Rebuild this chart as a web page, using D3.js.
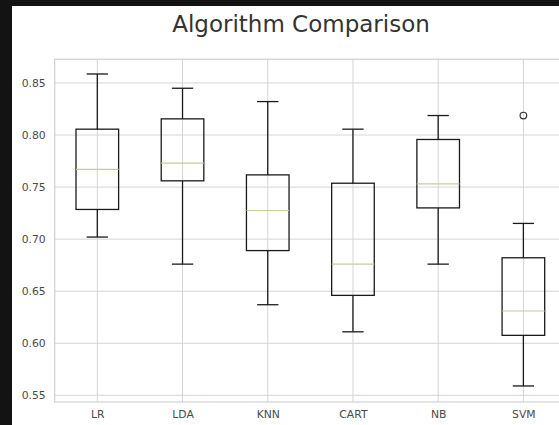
<!DOCTYPE html>
<html><head><meta charset="utf-8">
<script src="https://cdn.jsdelivr.net/npm/d3@7"></script>
<style>
html,body{margin:0;padding:0;background:#131313;}
svg{display:block;}
</style></head>
<body>
<script>
const categories = ["LR","LDA","KNN","CART","NB","SVM"];
const whiskerLow  = [0.702,0.676,0.637,0.611,0.676,0.559];
const q1          = [0.7285,0.756,0.689,0.646,0.730,0.6076];
const median      = [0.767,0.773,0.7275,0.676,0.753,0.631];
const q3          = [0.8056,0.8155,0.7617,0.7537,0.7957,0.6821];
const whiskerHigh = [0.8586,0.8449,0.8321,0.8056,0.8187,0.7151];
const outliers    = [[],[],[],[],[],[0.8187]];
const yTicks = [0.55,0.60,0.65,0.70,0.75,0.80,0.85];
const chartTitle = "Algorithm Comparison";

const W = 559, H = 425;
const svg = d3.select("body").append("svg").attr("width",W).attr("height",H);
svg.append("rect").attr("x",0).attr("y",0).attr("width",W).attr("height",H).attr("fill","#131313");
svg.append("rect").attr("x",12).attr("y",6).attr("width",W-12).attr("height",H-6).attr("fill","#ffffff");

const pL = 54.7, pR = 566, pT = 59.3, pB = 402;
const x = d3.scaleLinear().domain([0.5,6.5]).range([pL,pR]);
const y = d3.scaleLinear().domain([0.5436,0.8727]).range([pB,pT]);

// grid
const g = svg.append("g");
g.selectAll(".hg").data(yTicks).enter().append("line")
  .attr("x1",pL).attr("x2",pR)
  .attr("y1",d=>y(d)).attr("y2",d=>y(d))
  .attr("stroke","#d5d5d5").attr("stroke-width",1);
g.selectAll(".vg").data(categories).enter().append("line")
  .attr("x1",(d,i)=>x(i+1)).attr("x2",(d,i)=>x(i+1))
  .attr("y1",pT).attr("y2",pB)
  .attr("stroke","#d5d5d5").attr("stroke-width",1);
// frame
g.append("rect").attr("x",pL).attr("y",pT).attr("width",pR-pL).attr("height",pB-pT)
  .attr("fill","none").attr("stroke","#d0d0d0").attr("stroke-width",1.2);

// axes (labels only)
const yAxis = d3.axisLeft(y).tickValues(yTicks).tickFormat(d3.format(".2f")).tickSize(0).tickPadding(9);
const ya = svg.append("g").attr("transform",`translate(${pL},0)`).call(yAxis);
ya.select(".domain").remove();
ya.selectAll("text").attr("font-family","DejaVu Sans, sans-serif").attr("font-size",10.8).attr("fill","#4a4a4a");

const xAxis = d3.axisBottom(x).tickValues(categories.map((d,i)=>i+1)).tickFormat((d)=>categories[d-1]).tickSize(0).tickPadding(8);
const xa = svg.append("g").attr("transform",`translate(0,${pB})`).call(xAxis);
xa.select(".domain").remove();
xa.selectAll("text").attr("font-family","DejaVu Sans, sans-serif").attr("font-size",10.8).attr("fill","#4a4a4a");

// boxes
const bw = 0.25; // half width in data units
const capw = 0.125;
const bx = svg.append("g");
categories.forEach((c,i)=>{
  const p = i+1;
  const col = "#1a1a1a";
  bx.append("line").attr("x1",x(p)).attr("x2",x(p)).attr("y1",y(whiskerLow[i])).attr("y2",y(q1[i])).attr("stroke",col).attr("stroke-width",1.3);
  bx.append("line").attr("x1",x(p)).attr("x2",x(p)).attr("y1",y(q3[i])).attr("y2",y(whiskerHigh[i])).attr("stroke",col).attr("stroke-width",1.3);
  bx.append("line").attr("x1",x(p-capw)).attr("x2",x(p+capw)).attr("y1",y(whiskerLow[i])).attr("y2",y(whiskerLow[i])).attr("stroke",col).attr("stroke-width",1.3);
  bx.append("line").attr("x1",x(p-capw)).attr("x2",x(p+capw)).attr("y1",y(whiskerHigh[i])).attr("y2",y(whiskerHigh[i])).attr("stroke",col).attr("stroke-width",1.3);
  bx.append("rect").attr("x",x(p-bw)).attr("y",y(q3[i])).attr("width",x(p+bw)-x(p-bw)).attr("height",y(q1[i])-y(q3[i]))
    .attr("fill","none").attr("stroke",col).attr("stroke-width",1.3);
  bx.append("line").attr("x1",x(p-bw)).attr("x2",x(p+bw)).attr("y1",y(median[i])).attr("y2",y(median[i])).attr("stroke","#c5cc98").attr("stroke-width",1.2);
  outliers[i].forEach(o=>{
    bx.append("circle").attr("cx",x(p)).attr("cy",y(o)).attr("r",3.3).attr("fill","none").attr("stroke","#333").attr("stroke-width",1.2);
  });
});

svg.append("text").attr("x",301).attr("y",32).attr("text-anchor","middle")
  .attr("font-family","DejaVu Sans, sans-serif").attr("font-size",23).attr("fill","#333").text(chartTitle);
</script>
</body></html>
